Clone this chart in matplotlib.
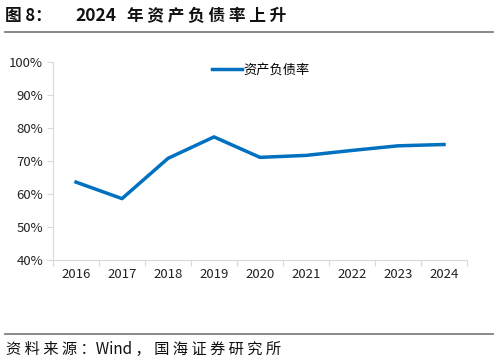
import matplotlib.pyplot as plt
from matplotlib.ticker import FuncFormatter, FixedLocator
from matplotlib.lines import Line2D

plt.rcParams['font.family'] = ['Noto Sans CJK SC', 'DejaVu Sans']

years = ['2016', '2017', '2018', '2019', '2020', '2021', '2022', '2023', '2024']
debt_ratio = [63.6, 58.6, 70.8, 77.3, 71.1, 71.7, 73.2, 74.6, 75.0]

series_name = '资产负债率'

fig = plt.figure(figsize=(4.98, 3.61), dpi=100)
fig.patch.set_facecolor('white')

# plot area: x 53..467 px, y 62..260 px
ax = fig.add_axes([53 / 498, 1 - 260 / 361, 414 / 498, 198 / 361])

x = list(range(len(years)))
ax.plot(x, debt_ratio, color='#0070C0', linewidth=2.5, label=series_name)

ax.set_xlim(-0.5, len(years) - 0.5)
ax.set_ylim(40, 100)
ax.set_yticks(range(40, 101, 10))
ax.yaxis.set_major_formatter(FuncFormatter(lambda v, p: f'{int(v)}%'))

# labels centred on categories, tick marks between them
ax.set_xticks(x)
ax.set_xticklabels(years)
ax.tick_params(axis='x', which='major', length=0, pad=6)
ax.xaxis.set_minor_locator(FixedLocator([i - 0.5 for i in range(len(years) + 1)]))
ax.tick_params(axis='x', which='minor', length=4, color='#d9d9d9', width=0.8)
ax.tick_params(axis='y', length=4, color='#d9d9d9', width=0.8, pad=3)
ax.tick_params(labelsize=9.5, labelcolor='#222222')

for s in ['top', 'right']:
    ax.spines[s].set_visible(False)
for s in ['left', 'bottom']:
    ax.spines[s].set_color('#d9d9d9')
    ax.spines[s].set_linewidth(0.8)

ax.legend(loc='upper left', bbox_to_anchor=(0.355, 1.05), frameon=False,
          fontsize=9.5, handlelength=2.3, handletextpad=0.1)

# title (spaced out like the report), rules and source
ty = 1 - 16 / 361
fig.text(5 / 498, ty, '图 8：', fontsize=12, fontweight='bold', va='center', color='#111111')
fig.text(75 / 498, ty, '2024', fontsize=12.5, fontweight='bold', va='center', color='#111111')
fig.text(127 / 498, ty, '年 资 产 负 债 率 上 升', fontsize=12, fontweight='bold',
         va='center', color='#111111')
fig.add_artist(Line2D([5 / 498, 493 / 498], [1 - 32 / 361, 1 - 32 / 361],
                      color='#808080', linewidth=1.3))
fig.add_artist(Line2D([5 / 498, 493 / 498], [1 - 334 / 361, 1 - 334 / 361],
                      color='#808080', linewidth=1.3))
fig.text(6 / 498, 1 - 349 / 361, '资 料 来 源 ：Wind ， 国 海 证 券 研 究 所',
         fontsize=11, va='center', ha='left', color='#111111')

fig.savefig('out.png', dpi=100, facecolor='white')
